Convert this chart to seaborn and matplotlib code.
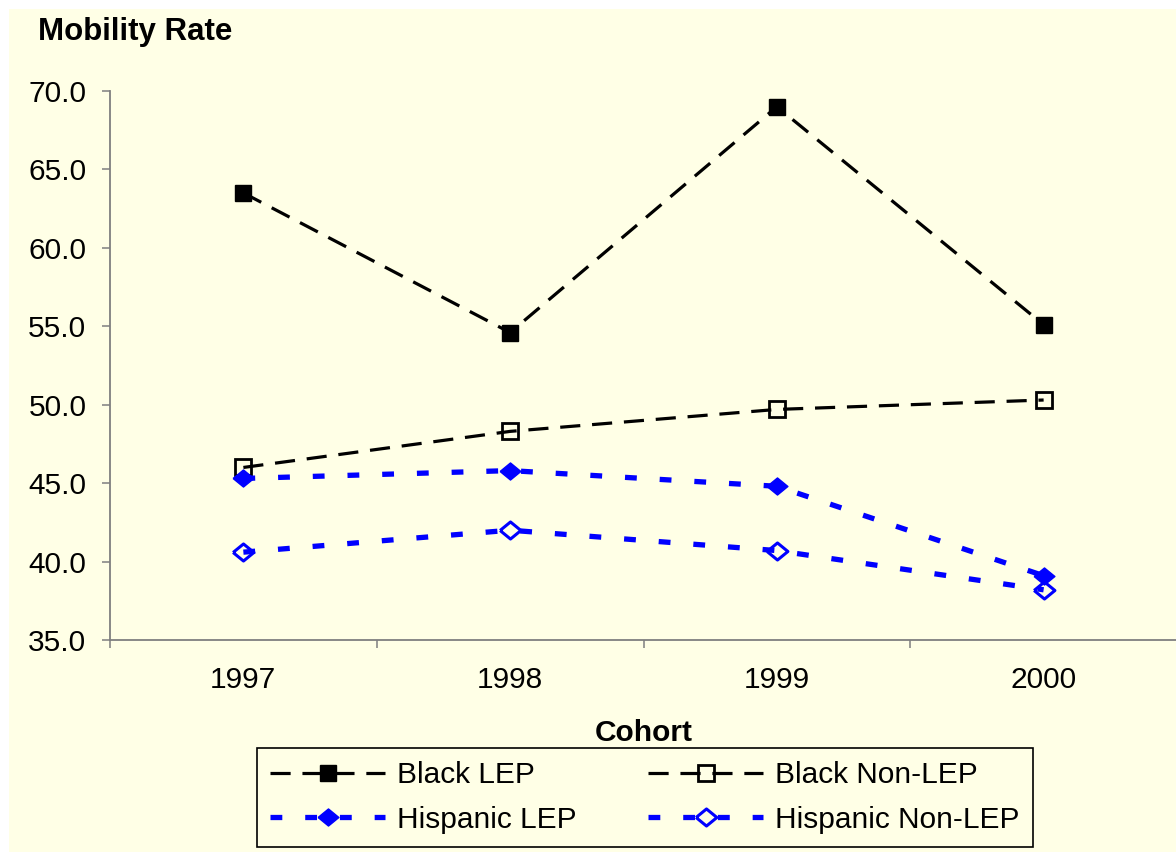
import matplotlib
matplotlib.use("Agg")
import matplotlib.pyplot as plt
from matplotlib.patches import Rectangle
import pandas as pd
import seaborn as sns

# Cohort years and mobility rates by group
years = ["1997", "1998", "1999", "2000"]
black_lep = [63.5, 54.6, 69.0, 55.1]
black_non_lep = [46.0, 48.3, 49.7, 50.3]
hispanic_lep = [45.3, 45.8, 44.8, 39.1]
hispanic_non_lep = [40.6, 42.0, 40.7, 38.2]
series_names = ["Black LEP", "Black Non-LEP", "Hispanic LEP", "Hispanic Non-LEP"]
y_ticks = [35.0, 40.0, 45.0, 50.0, 55.0, 60.0, 65.0, 70.0]

BG = "#FFFFE6"
FS = 21.5
sns.set_theme(style="white")
plt.rcParams["font.family"] = ["Liberation Sans", "DejaVu Sans"]
plt.rcParams["lines.scale_dashes"] = False
plt.rcParams["text.color"] = "black"
plt.rcParams["axes.labelcolor"] = "black"

W, H = 1176, 852
fig = plt.figure(figsize=(W / 100, H / 100), dpi=100)
fig.patch.set_facecolor("white")
fig.patches.append(Rectangle((9 / W, 0), 1, 1 - 9 / H, transform=fig.transFigure,
                             facecolor=BG, edgecolor="none", zorder=-10))

ax = fig.add_axes([110 / W, 212 / H, (1177 - 110) / W, (640 - 91) / H])
ax.set_facecolor(BG)

diamond = [(-1, 0), (0, -0.82), (1, 0), (0, 0.82), (-1, 0)]
black_style = dict(color="black", linewidth=2.3, linestyle=(0, (14.5, 8.5)))
blue_style = dict(color="#0000FF", linewidth=3.8, linestyle=(0, (8.5, 16.5)))

styles = {
    "Black LEP": dict(marker="s", markersize=11, markerfacecolor="black",
                      markeredgecolor="black", markeredgewidth=1, **black_style),
    "Black Non-LEP": dict(marker="s", markersize=11, markerfacecolor="none",
                          markeredgecolor="black", markeredgewidth=2.0, **black_style),
    "Hispanic LEP": dict(marker=diamond, markersize=15, markerfacecolor="#0000FF",
                         markeredgecolor="#0000FF", markeredgewidth=1, **blue_style),
    "Hispanic Non-LEP": dict(marker=diamond, markersize=15, markerfacecolor="none",
                             markeredgecolor="#0000FF", markeredgewidth=2.2, **blue_style),
}
values = {
    "Black LEP": black_lep,
    "Black Non-LEP": black_non_lep,
    "Hispanic LEP": hispanic_lep,
    "Hispanic Non-LEP": hispanic_non_lep,
}

for name in series_names:
    df = pd.DataFrame({"Cohort": years, "Rate": values[name]})
    sns.lineplot(data=df, x="Cohort", y="Rate", ax=ax, label=name, legend=False,
                 **styles[name])

ax.set_xlim(-0.5, 3.5)
ax.set_ylim(35, 70)
ax.set_yticks(y_ticks)
ax.set_yticklabels([f"{v:.1f}" for v in y_ticks])
ax.set_xticks(range(len(years)))
ax.set_xticklabels(years)
ax.set_xticks([i - 0.5 for i in range(len(years) + 1)], minor=True)

for side in ["top", "right"]:
    ax.spines[side].set_visible(False)
for side in ["left", "bottom"]:
    ax.spines[side].set_color("#7F7F7F")
    ax.spines[side].set_linewidth(1.3)

ax.tick_params(axis="y", which="major", left=True, length=6, width=1.1,
               color="#7F7F7F", labelsize=FS, pad=11, labelcolor="black")
ax.tick_params(axis="x", which="major", bottom=False, length=0, labelsize=FS,
               pad=19, labelcolor="black")
ax.tick_params(axis="x", which="minor", bottom=True, length=6, width=1.1,
               color="#7F7F7F")
ax.grid(False)

ax.set_ylabel("")
ax.set_xlabel("Cohort", fontsize=FS, fontweight="bold", labelpad=18)
fig.text(38 / W, 1 - 32 / H, "Mobility Rate", fontsize=22.5, fontweight="bold",
         ha="left", va="center")

handles, labels = ax.get_legend_handles_labels()
lookup = dict(zip(labels, handles))
order = ["Black LEP", "Hispanic LEP", "Black Non-LEP", "Hispanic Non-LEP"]
leg = fig.legend([lookup[k] for k in order], order, ncol=2, loc="center",
                 bbox_to_anchor=(645 / W, 1 - 797.5 / H), fontsize=FS,
                 frameon=True, fancybox=False, edgecolor="black",
                 facecolor=BG, framealpha=1, handlelength=3.85,
                 handletextpad=0.4, columnspacing=2.4, labelspacing=0.55,
                 borderpad=0.45, numpoints=1)
leg.get_frame().set_linewidth(1.2)

fig.savefig("out.png", dpi=100)
